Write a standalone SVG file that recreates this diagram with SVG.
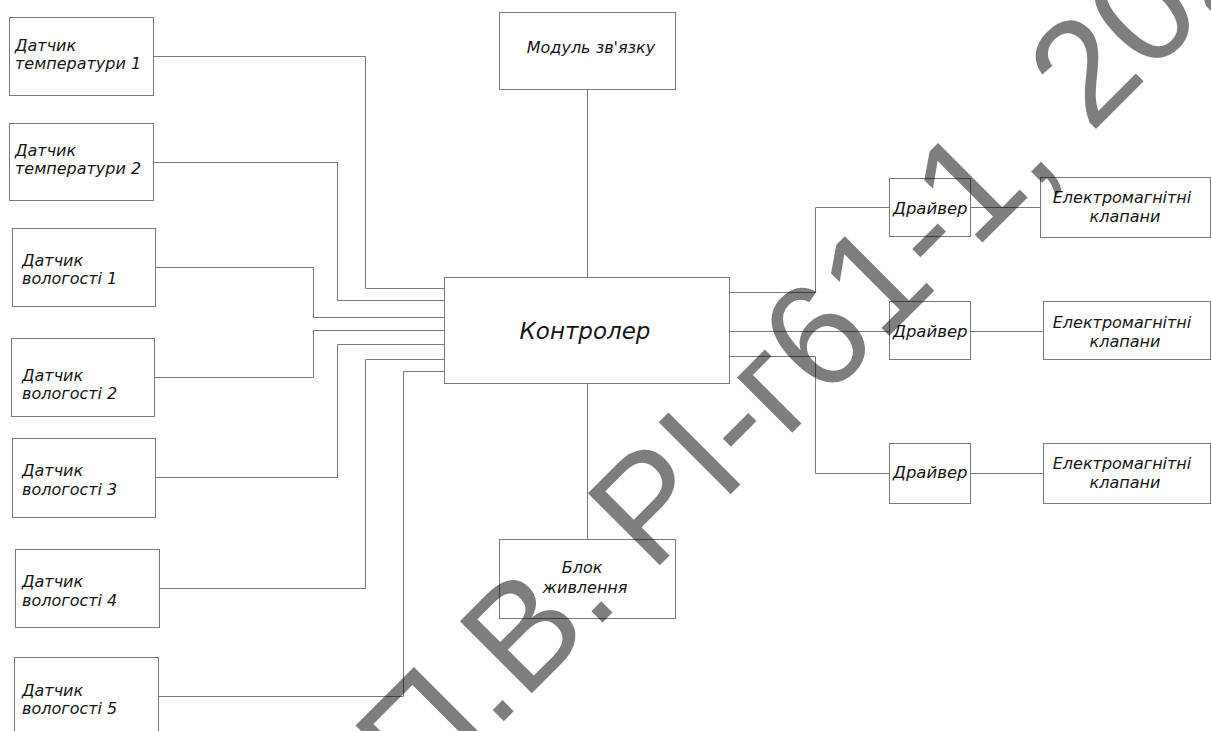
<svg xmlns="http://www.w3.org/2000/svg" width="1211" height="731" viewBox="0 0 1211 731">
<style>
.box{fill:#fff;stroke:#7a7a7a;stroke-width:1}
.ln{fill:none;stroke:#7a7a7a;stroke-width:1}
.t{font-family:"DejaVu Sans","Noto Sans",sans-serif;font-style:italic;font-size:16px;fill:#151515}
.m{text-anchor:middle}
.big{font-size:23px}
.drv{font-size:16.5px}
.wm{font-family:"Liberation Sans",Arial,sans-serif;font-size:148px;fill:#000;opacity:0.5}
</style>
<rect width="1211" height="731" fill="#fff"/>
<g id="connectors">
<polyline class="ln" points="153,56.5 365.5,56.5 365.5,288.5 444,288.5"/>
<polyline class="ln" points="153,162.5 337.5,162.5 337.5,300.5 444,300.5"/>
<polyline class="ln" points="155,267.5 313.5,267.5 313.5,317.5 444,317.5"/>
<polyline class="ln" points="154,377.5 313.5,377.5 313.5,330.5 444,330.5"/>
<polyline class="ln" points="155,477.5 337.5,477.5 337.5,344.5 444,344.5"/>
<polyline class="ln" points="159,588.5 365.5,588.5 365.5,359.5 444,359.5"/>
<polyline class="ln" points="158,696.5 403.5,696.5 403.5,371.5 444,371.5"/>
<polyline class="ln" points="587.5,89 587.5,277"/>
<polyline class="ln" points="587.5,383 587.5,539"/>
<polyline class="ln" points="729,292.5 815.5,292.5 815.5,207.5 889,207.5"/>
<polyline class="ln" points="970,207.5 1040,207.5"/>
<polyline class="ln" points="729,331.5 889,331.5"/>
<polyline class="ln" points="970,331.5 1043,331.5"/>
<polyline class="ln" points="729,356.5 815.5,356.5 815.5,473.5 889,473.5"/>
<polyline class="ln" points="970,473.5 1043,473.5"/>
</g>
<g id="temp1"><rect class="box" x="9.5" y="17.5" width="144" height="78"/><text class="t" x="15" y="51">Датчик</text><text class="t" x="15" y="69">температури 1</text></g>
<g id="temp2"><rect class="box" x="9.5" y="123.5" width="144" height="77"/><text class="t" x="15" y="156">Датчик</text><text class="t" x="15" y="174">температури 2</text></g>
<g id="vol1"><rect class="box" x="12.5" y="228.5" width="143" height="78"/><text class="t" x="22" y="266">Датчик</text><text class="t" x="22" y="284">вологості 1</text></g>
<g id="vol2"><rect class="box" x="11.5" y="338.5" width="143" height="78"/><text class="t" x="22" y="381">Датчик</text><text class="t" x="22" y="399">вологості 2</text></g>
<g id="vol3"><rect class="box" x="12.5" y="438.5" width="143" height="79"/><text class="t" x="22" y="476">Датчик</text><text class="t" x="22" y="495">вологості 3</text></g>
<g id="vol4"><rect class="box" x="15.5" y="549.5" width="144" height="78"/><text class="t" x="22" y="587">Датчик</text><text class="t" x="22" y="606">вологості 4</text></g>
<g id="vol5"><rect class="box" x="14.5" y="657.5" width="144" height="85"/><text class="t" x="22" y="696">Датчик</text><text class="t" x="22" y="714">вологості 5</text></g>
<g id="module"><rect class="box" x="499.5" y="12.5" width="176" height="77"/><text class="t m" x="591" y="53">Модуль зв'язку</text></g>
<g id="controller"><rect class="box" x="444.5" y="277.5" width="285" height="106"/><text class="t m big" x="585" y="339">Контролер</text></g>
<g id="power"><rect class="box" x="499.5" y="539.5" width="176" height="79"/><text class="t m" x="582" y="573">Блок</text><text class="t m" x="585" y="593">живлення</text></g>
<g id="driver1"><rect class="box" x="889.5" y="178.5" width="81" height="58"/><text class="t drv" x="893" y="214">Драйвер</text></g>
<g id="driver2"><rect class="box" x="889.5" y="301.5" width="81" height="58"/><text class="t drv" x="893" y="337">Драйвер</text></g>
<g id="driver3"><rect class="box" x="889.5" y="443.5" width="81" height="60"/><text class="t drv" x="893" y="478">Драйвер</text></g>
<g id="valve1"><rect class="box" x="1040.5" y="177.5" width="170" height="60"/><text class="t m" x="1122" y="203">Електромагнітні</text><text class="t m" x="1125" y="222">клапани</text></g>
<g id="valve2"><rect class="box" x="1043.5" y="301.5" width="167" height="58"/><text class="t m" x="1122" y="328">Електромагнітні</text><text class="t m" x="1125" y="347">клапани</text></g>
<g id="valve3"><rect class="box" x="1043.5" y="443.5" width="167" height="60"/><text class="t m" x="1122" y="469">Електромагнітні</text><text class="t m" x="1125" y="488">клапани</text></g>
<g id="watermark"><text class="wm" transform="translate(419,806) rotate(-45)">П.В. РІ-г61-1, 2020</text></g>
</svg>
